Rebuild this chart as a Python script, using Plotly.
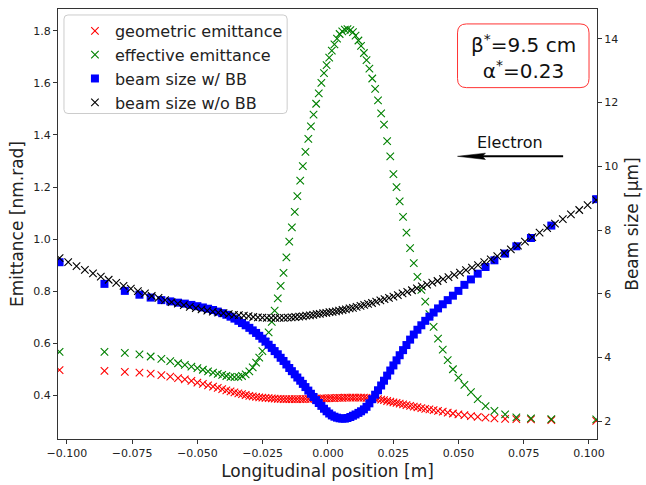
import plotly.graph_objects as go

# ---------------- data ----------------
X = [-0.1028, -0.0856, -0.0778, -0.0722, -0.0679, -0.0638, -0.0604, -0.0574, -0.0548, -0.0523,
     -0.0500, -0.0479, -0.0459, -0.0440, -0.0422, -0.0405, -0.0389, -0.0373, -0.0358, -0.0343,
     -0.0329, -0.0315, -0.0301, -0.0288, -0.0275, -0.0263, -0.0251, -0.0239, -0.0227, -0.0215,
     -0.0204, -0.0192, -0.0181, -0.0170, -0.0159, -0.0148, -0.0138, -0.0127, -0.0117, -0.0106,
     -0.0096, -0.0086, -0.0075, -0.0065, -0.0055, -0.0045, -0.0035, -0.0025, -0.0015, -0.0005,
     0.0005, 0.0015, 0.0025, 0.0035, 0.0045, 0.0055, 0.0065, 0.0075, 0.0086, 0.0096,
     0.0106, 0.0117, 0.0127, 0.0138, 0.0148, 0.0159, 0.0170, 0.0181, 0.0192, 0.0204,
     0.0215, 0.0227, 0.0239, 0.0251, 0.0263, 0.0275, 0.0288, 0.0301, 0.0315, 0.0329,
     0.0343, 0.0358, 0.0373, 0.0389, 0.0405, 0.0422, 0.0440, 0.0459, 0.0479, 0.0500,
     0.0523, 0.0548, 0.0574, 0.0604, 0.0638, 0.0679, 0.0722, 0.0778, 0.0856, 0.1028]

GEOM_EMIT = [0.497, 0.494, 0.490, 0.487, 0.483, 0.477, 0.472, 0.466, 0.461, 0.455,
             0.449, 0.444, 0.438, 0.433, 0.428, 0.424, 0.419, 0.415, 0.411, 0.407,
             0.404, 0.401, 0.398, 0.396, 0.394, 0.392, 0.391, 0.390, 0.389, 0.388,
             0.387, 0.386, 0.386, 0.385, 0.385, 0.385, 0.385, 0.385, 0.385, 0.385,
             0.385, 0.386, 0.386, 0.386, 0.387, 0.387, 0.387, 0.388, 0.388, 0.388,
             0.389, 0.389, 0.389, 0.390, 0.390, 0.390, 0.391, 0.391, 0.391, 0.391,
             0.391, 0.391, 0.391, 0.391, 0.390, 0.389, 0.388, 0.387, 0.385, 0.383,
             0.381, 0.378, 0.376, 0.373, 0.371, 0.368, 0.365, 0.362, 0.359, 0.356,
             0.354, 0.351, 0.348, 0.346, 0.343, 0.340, 0.337, 0.333, 0.330, 0.327,
             0.324, 0.320, 0.317, 0.314, 0.311, 0.309, 0.308, 0.307, 0.305, 0.302]

EFF_EMIT = [0.567, 0.567, 0.563, 0.557, 0.549, 0.540, 0.531, 0.523, 0.517, 0.510,
            0.504, 0.498, 0.492, 0.487, 0.482, 0.478, 0.474, 0.471, 0.470, 0.471,
            0.474, 0.480, 0.492, 0.507, 0.525, 0.545, 0.570, 0.605, 0.642, 0.682,
            0.725, 0.772, 0.820, 0.870, 0.930, 0.990, 1.045, 1.105, 1.165, 1.225,
            1.280, 1.335, 1.385, 1.433, 1.478, 1.520, 1.560, 1.600, 1.638, 1.668,
            1.697, 1.724, 1.748, 1.770, 1.788, 1.798, 1.805, 1.807, 1.803, 1.795,
            1.782, 1.763, 1.742, 1.715, 1.688, 1.655, 1.617, 1.577, 1.533, 1.483,
            1.440, 1.376, 1.318, 1.250, 1.200, 1.145, 1.085, 1.025, 0.965, 0.908,
            0.855, 0.805, 0.760, 0.712, 0.663, 0.618, 0.575, 0.535, 0.500, 0.468,
            0.440, 0.412, 0.385, 0.358, 0.340, 0.327, 0.315, 0.311, 0.308, 0.307]

SIZE_BB = [6.99, 6.31, 6.09, 5.97, 5.88, 5.80, 5.76, 5.72, 5.69, 5.65,
           5.61, 5.57, 5.53, 5.49, 5.44, 5.39, 5.34, 5.28, 5.22, 5.15,
           5.08, 5.01, 4.93, 4.85, 4.77, 4.68, 4.59, 4.50, 4.40, 4.30,
           4.20, 4.10, 3.99, 3.89, 3.78, 3.67, 3.57, 3.47, 3.37, 3.27,
           3.17, 3.07, 2.96, 2.86, 2.76, 2.66, 2.57, 2.48, 2.39, 2.31,
           2.24, 2.18, 2.14, 2.11, 2.09, 2.08, 2.08, 2.10, 2.13, 2.17,
           2.21, 2.26, 2.31, 2.37, 2.45, 2.56, 2.69, 2.83, 2.97, 3.12,
           3.27, 3.43, 3.59, 3.75, 3.91, 4.07, 4.23, 4.39, 4.56, 4.72,
           4.87, 5.01, 5.15, 5.28, 5.41, 5.54, 5.67, 5.80, 5.94, 6.09,
           6.28, 6.45, 6.63, 6.84, 7.05, 7.26, 7.49, 7.75, 8.14, 8.97]

X_NOBB = [-0.1028, -0.0995, -0.0963, -0.0931, -0.0900, -0.0870, -0.0840, -0.0811, -0.0783, -0.0755,
          -0.0728, -0.0701, -0.0675, -0.0649, -0.0624, -0.0599, -0.0575, -0.0552, -0.0529, -0.0506,
          -0.0484, -0.0462, -0.0441, -0.0420, -0.0400, -0.0380, -0.0360, -0.0341, -0.0322, -0.0304,
          -0.0286, -0.0268, -0.0251, -0.0234, -0.0217, -0.0201, -0.0185, -0.0169, -0.0154, -0.0139,
          -0.0125, -0.0110, -0.0096, -0.0083, -0.0069, -0.0056, -0.0043, -0.0031, -0.0018, -0.0006,
          0.0006, 0.0018, 0.0031, 0.0043, 0.0056, 0.0069, 0.0083, 0.0096, 0.0110, 0.0125,
          0.0139, 0.0154, 0.0169, 0.0185, 0.0201, 0.0217, 0.0234, 0.0251, 0.0268, 0.0286,
          0.0304, 0.0322, 0.0341, 0.0360, 0.0380, 0.0400, 0.0420, 0.0441, 0.0462, 0.0484,
          0.0506, 0.0529, 0.0552, 0.0575, 0.0599, 0.0624, 0.0649, 0.0675, 0.0701, 0.0728,
          0.0755, 0.0783, 0.0811, 0.0840, 0.0870, 0.0900, 0.0931, 0.0963, 0.0995, 0.1028]

SIZE_NOBB = [7.12, 6.99, 6.87, 6.75, 6.64, 6.54, 6.44, 6.34, 6.25, 6.16,
             6.08, 6.01, 5.93, 5.87, 5.80, 5.74, 5.69, 5.64, 5.59, 5.55,
             5.51, 5.47, 5.44, 5.41, 5.39, 5.36, 5.34, 5.33, 5.31, 5.30,
             5.27, 5.26, 5.25, 5.24, 5.24, 5.24, 5.24, 5.24, 5.25, 5.26,
             5.27, 5.28, 5.29, 5.31, 5.32, 5.34, 5.36, 5.37, 5.39, 5.40,
             5.42, 5.43, 5.45, 5.47, 5.49, 5.51, 5.54, 5.56, 5.59, 5.62,
             5.65, 5.68, 5.71, 5.75, 5.79, 5.83, 5.87, 5.91, 5.96, 6.01,
             6.06, 6.11, 6.17, 6.23, 6.29, 6.35, 6.40, 6.46, 6.52, 6.59,
             6.66, 6.74, 6.82, 6.90, 6.99, 7.08, 7.18, 7.28, 7.39, 7.51,
             7.64, 7.78, 7.92, 8.06, 8.20, 8.34, 8.49, 8.63, 8.78, 8.94]

X_TICKS = [-0.1, -0.075, -0.05, -0.025, 0.0, 0.025, 0.05, 0.075, 0.1]
Y_TICKS = [0.4, 0.6, 0.8, 1.0, 1.2, 1.4, 1.6, 1.8]
Y2_TICKS = [2, 4, 6, 8, 10, 12, 14]

FONT = "DejaVu Sans"
AX = "#333333"

fig = go.Figure()
fig.add_trace(go.Scatter(x=X, y=GEOM_EMIT, mode="markers", name="geometric emittance",
                         marker=dict(symbol="x-thin", size=7.5, color="#ff0000",
                                     line=dict(color="#ff0000", width=1.1))))
fig.add_trace(go.Scatter(x=X, y=EFF_EMIT, mode="markers", name="effective emittance",
                         marker=dict(symbol="x-thin", size=7.5, color="#008000",
                                     line=dict(color="#008000", width=1.1))))
fig.add_trace(go.Scatter(x=X, y=SIZE_BB, mode="markers", name="beam size w/ BB", yaxis="y2",
                         marker=dict(symbol="square", size=8, color="#0000ff",
                                     line=dict(width=0))))
fig.add_trace(go.Scatter(x=X_NOBB, y=SIZE_NOBB, mode="markers", name="beam size w/o BB", yaxis="y2",
                         marker=dict(symbol="x-thin", size=7.5, color="#000000",
                                     line=dict(color="#000000", width=1.1))))

# helpers converting pixel positions of decorations to paper coordinates
L, R, T, B = 58, 47, 8, 45
W, H = 646, 485
PW, PH = W - L - R, H - T - B


def px(xp):
    return (xp - L) / PW


def py(yp):
    return (T + PH - yp) / PH


def rounded(x0, y0, x1, y1, r):
    rx, ry = r / PW, r / PH
    X0, X1, Y0, Y1 = px(x0), px(x1), py(y1), py(y0)
    return (f"M {X0+rx},{Y1} L {X1-rx},{Y1} Q {X1},{Y1} {X1},{Y1-ry} "
            f"L {X1},{Y0+ry} Q {X1},{Y0} {X1-rx},{Y0} L {X0+rx},{Y0} "
            f"Q {X0},{Y0} {X0},{Y0+ry} L {X0},{Y1-ry} Q {X0},{Y1} {X0+rx},{Y1} Z")


shapes = [
    # legend frame
    dict(type="path", xref="paper", yref="paper", path=rounded(64, 14, 288, 113, 4),
         line=dict(color="#cccccc", width=1), fillcolor="rgba(255,255,255,0.8)", layer="above"),
    # beta/alpha box
    dict(type="path", xref="paper", yref="paper", path=rounded(459, 23, 591, 87, 9),
         line=dict(color="#ff3333", width=1), fillcolor="white", layer="above"),
    # arrow shaft
    dict(type="line", xref="paper", yref="paper", x0=px(565), x1=px(480), y0=py(156), y1=py(156),
         line=dict(color="black", width=2)),
    # arrow head
    dict(type="path", xref="paper", yref="paper",
         path=f"M {px(459)},{py(156)} L {px(487)},{py(152.8)} L {px(484)},{py(156)} L {px(487)},{py(159.2)} Z",
         line=dict(color="black", width=0.5), fillcolor="black"),
]

annotations = [
    dict(xref="paper", yref="paper", x=px(525), y=py(56), xanchor="center", yanchor="middle",
         text="β<sup>*</sup>=9.5 cm<br>α<sup>*</sup>=0.23", showarrow=False,
         font=dict(family=FONT, size=20, color="#111111"), align="center"),
    dict(xref="paper", yref="paper", x=px(511.5), y=py(142), xanchor="center", yanchor="middle",
         text="Electron", showarrow=False, font=dict(family=FONT, size=16, color="#111111")),
]

fig.update_layout(
    width=W, height=H,
    margin=dict(l=L, r=R, t=T, b=B, pad=0),
    paper_bgcolor="white", plot_bgcolor="white",
    font=dict(family=FONT, color="#222222"),
    showlegend=True,
    legend=dict(x=px(75), y=py(13), xanchor="left", yanchor="top",
                bgcolor="rgba(0,0,0,0)", borderwidth=0,
                font=dict(family=FONT, size=16, color="#222222"),
                itemsizing="trace", tracegroupgap=0),
    xaxis=dict(range=[-0.1034, 0.1031], tickvals=X_TICKS, tickformat=".3f",
               ticks="outside", ticklen=4, tickcolor=AX, showline=True, mirror=True,
               linecolor=AX, linewidth=1, showgrid=False, zeroline=False,
               tickfont=dict(family=FONT, size=11, color="#222222"),
               title=dict(text="Longitudinal position [m]", font=dict(family=FONT, size=17),
                          standoff=5)),
    yaxis=dict(range=[0.232, 1.884], tickvals=Y_TICKS, tickformat=".1f",
               ticks="outside", ticklen=4, tickcolor=AX, showline=True,
               linecolor=AX, linewidth=1, showgrid=False, zeroline=False,
               tickfont=dict(family=FONT, size=11, color="#222222"),
               title=dict(text="Emittance [nm.rad]", font=dict(family=FONT, size=17),
                          standoff=5)),
    yaxis2=dict(range=[1.44, 14.94], tickvals=Y2_TICKS, overlaying="y", side="right",
                ticks="outside", ticklen=4, tickcolor=AX, showline=True,
                linecolor=AX, linewidth=1, showgrid=False, zeroline=False,
                tickfont=dict(family=FONT, size=11, color="#222222"),
                title=dict(text="Beam size [μm]", font=dict(family=FONT, size=17),
                           standoff=8)),
    shapes=shapes,
    annotations=annotations,
)

fig.write_html("out.html")
